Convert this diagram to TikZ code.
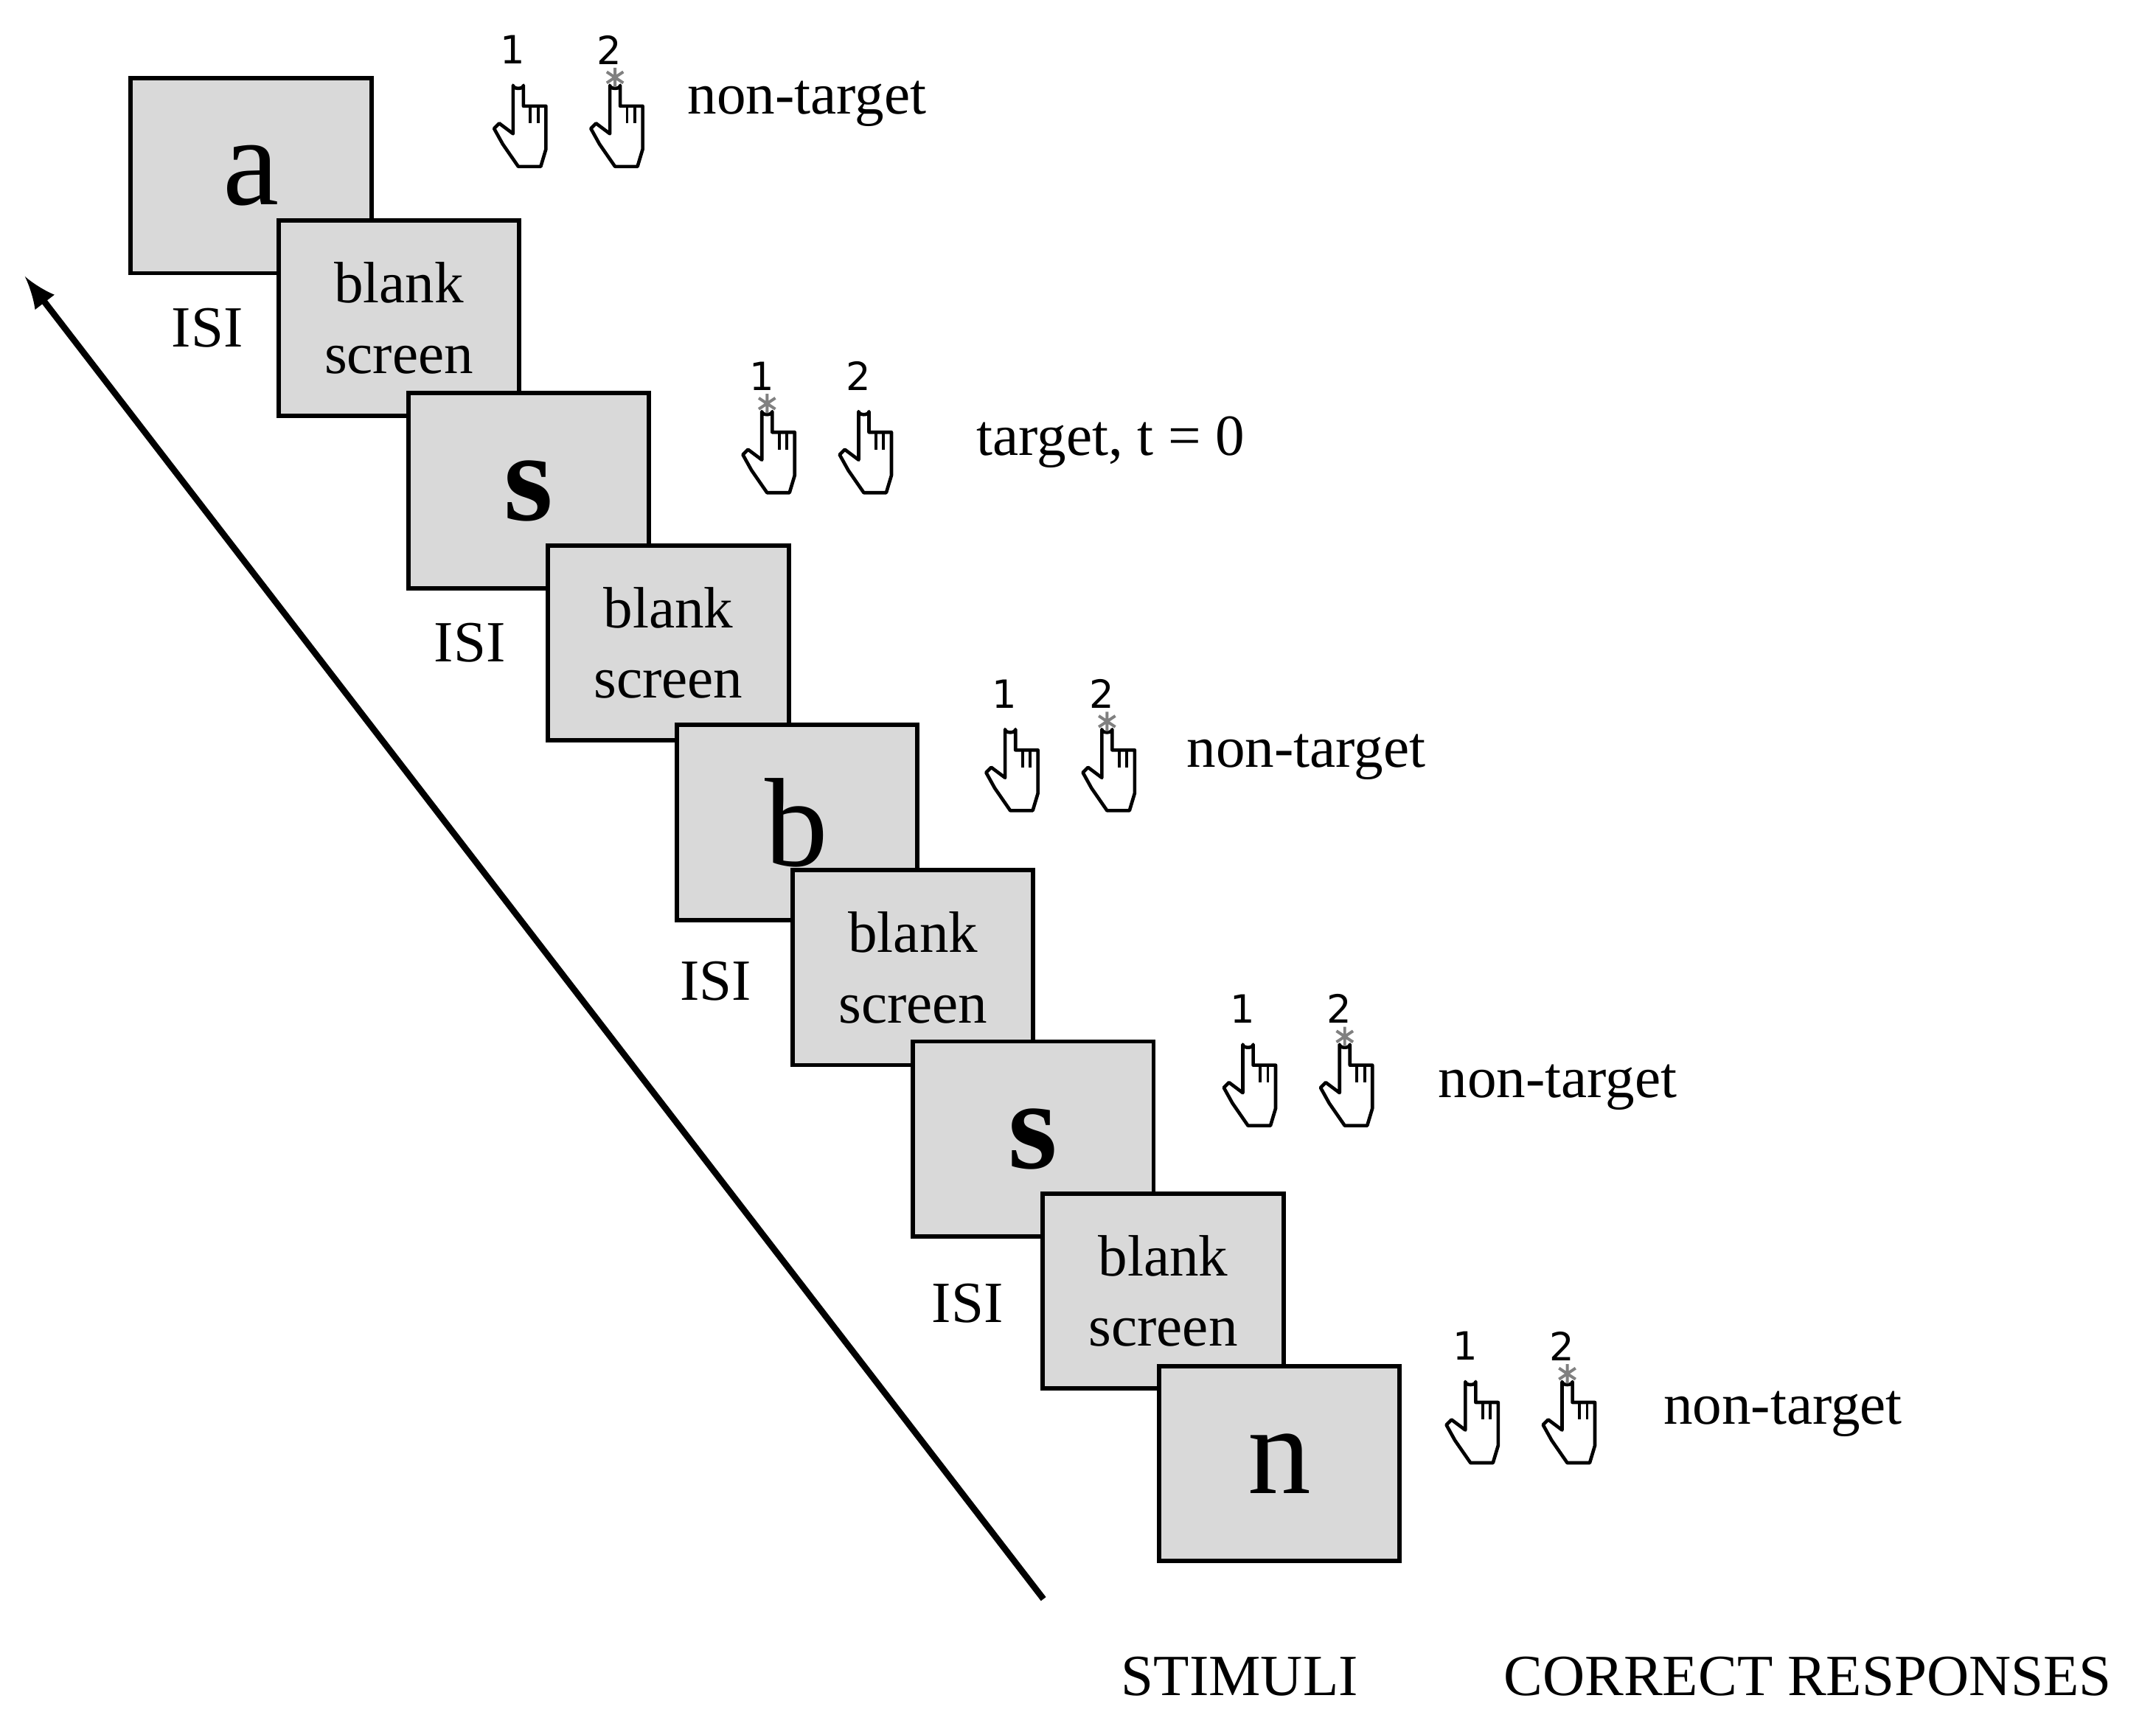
\documentclass[tikz,border=0pt]{standalone}
\usepackage{fontspec}
\setmainfont{Liberation Serif}
\newfontfamily\numfont{DejaVu Sans}
\tikzset{
  frame/.style={draw=black, line width=0.9pt, fill=gray!30, anchor=north west,
    minimum width=17.4mm, minimum height=14.1mm, inner sep=0pt},
  stim/.style={frame, font=\fontsize{26}{28}\selectfont},
  blank/.style={frame, align=center, font=\fontsize{12}{14.5}\selectfont},
  lbl/.style={font=\fontsize{12}{14.5}\selectfont, inner sep=0pt},
  num/.style={font=\numfont\fontsize{8}{9}\selectfont, inner sep=0pt},
  hand/.pic={
    \begin{scope}[scale=1.25]
    \draw[line width=0.7pt, fill=white, line join=round]
      (-3,22) -- (-3,3) to[out=-90,in=-90] (3,3) -- (3,15) -- (16,15) -- (16,40)
      -- (13,50) -- (0,50) -- (-9,37) -- (-14,28) -- (-11,25) -- (-3,31) -- cycle;
    \draw[line width=0.6pt] (7,15) -- (7,25) (11.5,15) -- (11.5,25);
    \end{scope}
  },
  click/.pic={
    \draw[line width=0.6pt, gray] (-6,-4) -- (6,4) (-6,4) -- (6,-4) (0,-7) -- (0,7);
  }
}
\begin{document}
\begin{tikzpicture}[x=0.01cm, y=-0.01cm]
\useasboundingbox (0,0) rectangle (1560,1251);
% stimuli and blank screens
\node[stim] (sa) at (93,55) {a};
\node[blank] (b1) at (200,158) {blank\\screen};
\node[stim] (ss) at (294,283) {\textbf{s}};
\node[blank] (b2) at (395,393) {blank\\screen};
\node[stim] (sb) at (488,523) {b};
\node[blank] (b3) at (572,628) {blank\\screen};
\node[stim] (ss2) at (659,752) {\textbf{s}};
\node[blank] (b4) at (753,862) {blank\\screen};
\node[stim] (sn) at (837,987) {n};
% ISI labels
\node[lbl] (isi1) at (150,237) {ISI};
\node[lbl] (isi2) at (340,465) {ISI};
\node[lbl] (isi3) at (518,710) {ISI};
\node[lbl] (isi4) at (700,943) {ISI};
% responses
\foreach \hx/\hy/\c [count=\i] in {375/58/2, 555/294/1, 731/524/2, 903/752/2, 1064/996/2}{
  \pic at (\hx,\hy) {hand};
  \pic at (\hx+70,\hy) {hand};
  \node[num] (n1\i) at (\hx-4,\hy-22) {1};
  \node[num] (n2\i) at (\hx+66,\hy-22) {2};
  \ifnum\c=1 \pic at (\hx,\hy-2) {click}; \else \pic at (\hx+70,\hy-2) {click}; \fi
}
\node[lbl, anchor=west] (r1) at (497,75) {non-target};
\node[lbl, anchor=west] (r2) at (706,320) {target, t = 0};
\node[lbl, anchor=west] (r3) at (858,548) {non-target};
\node[lbl, anchor=west] (r4) at (1040,787) {non-target};
\node[lbl, anchor=west] (r5) at (1203,1023) {non-target};
% time arrow
\coordinate (tstart) at (755,1157);
\coordinate (tend) at (18,200);
\draw[line width=1.3pt, -latex] (tstart) -- (tend);
% headings
\node[lbl] (hs) at (897,1213) {STIMULI};
\node[lbl] (hr) at (1308,1213) {CORRECT RESPONSES};
\end{tikzpicture}
\end{document}
